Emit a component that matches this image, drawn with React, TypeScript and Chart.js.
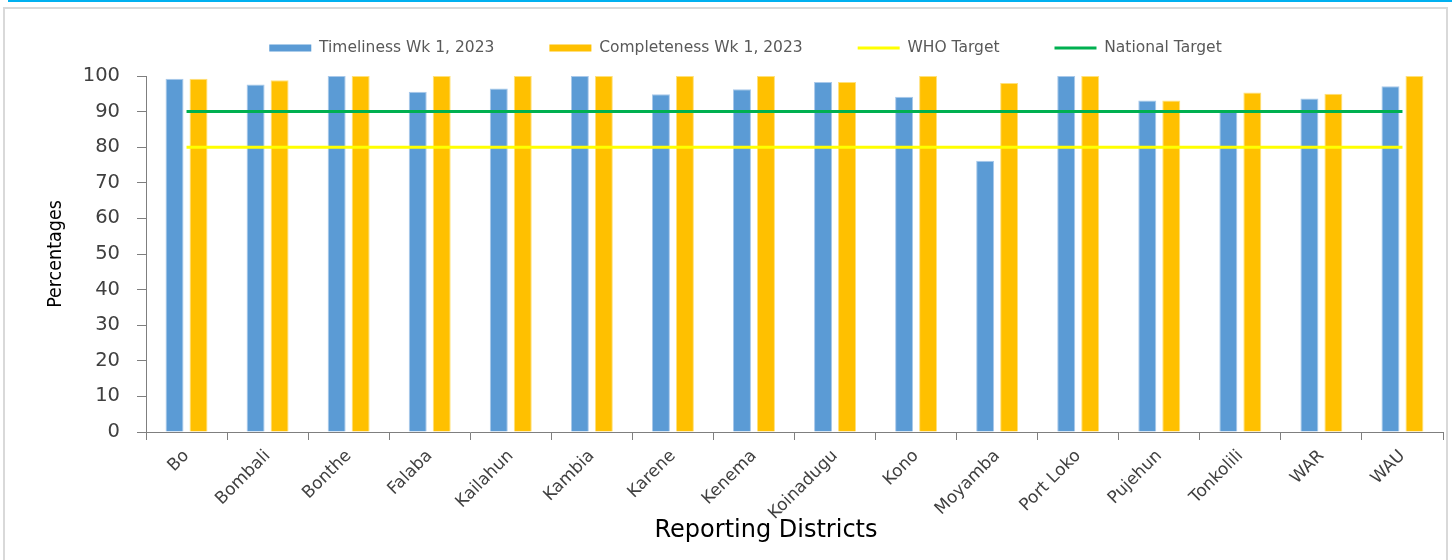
import React, { useEffect, useRef } from 'react';
import { Chart, registerables } from 'chart.js';

Chart.register(...registerables);

const districts = ['Bo', 'Bombali', 'Bonthe', 'Falaba', 'Kailahun', 'Kambia', 'Karene', 'Kenema', 'Koinadugu', 'Kono', 'Moyamba', 'Port Loko', 'Pujehun', 'Tonkolili', 'WAR', 'WAU'];
const timeliness = [99.2, 97.6, 100, 95.6, 96.5, 100, 94.9, 96.3, 98.3, 94.2, 76.2, 100, 93.1, 90.0, 93.7, 97.1];
const completeness = [99.2, 98.8, 100, 100, 100, 100, 100, 100, 98.3, 100, 98.0, 100, 93.1, 95.4, 95.0, 100];
const whoTarget = [80, 80, 80, 80, 80, 80, 80, 80, 80, 80, 80, 80, 80, 80, 80, 80];
const nationalTarget = [90, 90, 90, 90, 90, 90, 90, 90, 90, 90, 90, 90, 90, 90, 90, 90];
const seriesLabels = ['Timeliness Wk 1, 2023', 'Completeness Wk 1, 2023', 'WHO Target', 'National Target'];
const yTickValues = [0, 10, 20, 30, 40, 50, 60, 70, 80, 90, 100];
const xAxisTitle = 'Reporting Districts';
const yAxisTitle = 'Percentages';

const OFFSET = 20; // canvas shifted up by this many px

const xTitlePlugin = {
  id: 'xTitleOffset',
  afterDraw(chart: any) {
    const ctx = chart.ctx;
    ctx.save();
    ctx.font = "24px 'DejaVu Sans', sans-serif";
    ctx.fillStyle = '#000000';
    ctx.textAlign = 'center';
    ctx.textBaseline = 'middle';
    ctx.fillText(xAxisTitle, 766, 531 + OFFSET);
    ctx.restore();
  },
};

const legendShiftPlugin = {
  id: 'legendShift',
  afterLayout(chart: any) {
    if (chart.legend) {
      chart.legend.left += 24;
      chart.legend.right += 24;
    }
  },
};

function pickNarrowFont(): { family: string; size: number } {
  try {
    const c = document.createElement('canvas').getContext('2d');
    if (c) {
      const cands = ["'Liberation Sans Narrow'", "'DejaVu Sans Condensed'"];
      for (const f of cands) {
        c.font = `22px ${f}, monospace`;
        const w1 = c.measureText(yAxisTitle).width;
        c.font = '22px monospace';
        const w2 = c.measureText(yAxisTitle).width;
        if (Math.abs(w1 - w2) > 0.5) {
          return { family: `${f}, sans-serif`, size: f.includes('DejaVu') ? 19.5 : 22 };
        }
      }
    }
  } catch (e) {
    /* ignore */
  }
  return { family: "'Liberation Sans', sans-serif", size: 19 };
}

export default function App() {
  const ref = useRef<HTMLCanvasElement | null>(null);

  useEffect(() => {
    if (!ref.current) return;
    const yTitleFont = pickNarrowFont();
    const chart = new Chart(ref.current, {
      type: 'bar',
      data: {
        labels: districts,
        datasets: [
          {
            type: 'bar',
            label: seriesLabels[0],
            data: timeliness,
            xAxisID: 'x',
            backgroundColor: '#5B9BD5',
            borderColor: '#A9C9EA',
            borderWidth: 1,
            categoryPercentage: 0.592,
            barPercentage: 0.75,
            order: 2,
          },
          {
            type: 'bar',
            label: seriesLabels[1],
            data: completeness,
            xAxisID: 'x',
            backgroundColor: '#FFC000',
            borderColor: '#FFE17A',
            borderWidth: 1,
            categoryPercentage: 0.592,
            barPercentage: 0.75,
            order: 2,
          },
          {
            type: 'line',
            label: seriesLabels[2],
            data: whoTarget,
            xAxisID: 'x',
            borderColor: '#FFFF00',
            backgroundColor: '#FFFF00',
            borderWidth: 3,
            pointRadius: 0,
            fill: false,
            order: 1,
          },
          {
            type: 'line',
            label: seriesLabels[3],
            data: nationalTarget,
            xAxisID: 'x',
            borderColor: '#00B050',
            backgroundColor: '#00B050',
            borderWidth: 3,
            pointRadius: 0,
            fill: false,
            order: 0,
          },
        ] as any,
      },
      options: {
        animation: false,
        responsive: false,
        maintainAspectRatio: false,
        layout: { padding: { top: 5.25, left: 0, right: 9, bottom: 10 } },
        plugins: {
          tooltip: { enabled: false },
          legend: {
            position: 'top',
            labels: {
              usePointStyle: true,
              pointStyleWidth: 42,
              boxHeight: 7,
              padding: 55,
              color: '#595959',
              font: { family: "'DejaVu Sans', sans-serif", size: 15.5 },
              sort: (a: any, b: any) => a.datasetIndex - b.datasetIndex,
              generateLabels: (c: any) =>
                c.data.datasets.map((ds: any, i: number) => {
                  const isLine = ds.type === 'line';
                  return {
                    text: ds.label,
                    datasetIndex: i,
                    hidden: false,
                    pointStyle: isLine ? 'line' : 'rect',
                    fillStyle: isLine ? ds.borderColor : ds.backgroundColor,
                    strokeStyle: ds.borderColor,
                    lineWidth: isLine ? 3 : 0,
                    fontColor: '#595959',
                  };
                }),
            },
          },
        },
        scales: {
          x: {
            offset: true,
            grid: {
              offset: true,
              drawOnChartArea: false,
              drawTicks: true,
              tickLength: 8,
              color: '#7F7F7F',
            },
            border: { display: true, color: '#7F7F7F', width: 1 },
            ticks: {
              autoSkip: false,
              maxRotation: 45,
              minRotation: 45,
              padding: 6,
              color: '#404040',
              font: { family: "'DejaVu Sans', sans-serif", size: 17 },
            },
            title: { display: false },
            afterFit: (scale: any) => {
              scale.height = 580 - 10 - (432 + OFFSET);
            },
          },
          xTop: {
            type: 'linear',
            position: 'top',
            display: true,
            grid: { display: false, drawTicks: false },
            border: { display: false },
            ticks: { display: false },
            afterFit: (scale: any) => {
              scale.height = 10.25;
            },
          },
          y: {
            min: 0,
            max: 100,
            afterBuildTicks: (scale: any) => {
              scale.ticks = yTickValues.map((v) => ({ value: v }));
            },
            grid: {
              drawOnChartArea: false,
              drawTicks: true,
              tickLength: 9,
              color: '#7F7F7F',
            },
            border: { display: true, color: '#7F7F7F', width: 1 },
            ticks: {
              padding: 17,
              color: '#404040',
              font: { family: "'DejaVu Sans', sans-serif", size: 19.5 },
            },
            title: {
              display: true,
              text: yAxisTitle,
              color: '#000000',
              font: yTitleFont,
              padding: { top: 44, bottom: 0 },
            },
            afterFit: (scale: any) => {
              scale.width = 146;
            },
          },
        },
      } as any,
      plugins: [xTitlePlugin, legendShiftPlugin],
    });
    return () => chart.destroy();
  }, []);

  return (
    <div style={{ position: 'absolute', left: 0, top: 0, width: 1452, height: 560, overflow: 'hidden', background: '#FFFFFF' }}>
      <div style={{ position: 'absolute', left: 8, top: 0, right: 0, height: 2, background: '#00B0F0' }} />
      <div style={{ position: 'absolute', left: 3, top: 7, width: 1441, height: 600, border: '2px solid #D9D9D9' }} />
      <canvas ref={ref} width={1452} height={580} style={{ position: 'absolute', left: 0, top: -OFFSET, width: 1452, height: 580 }} />
    </div>
  );
}
